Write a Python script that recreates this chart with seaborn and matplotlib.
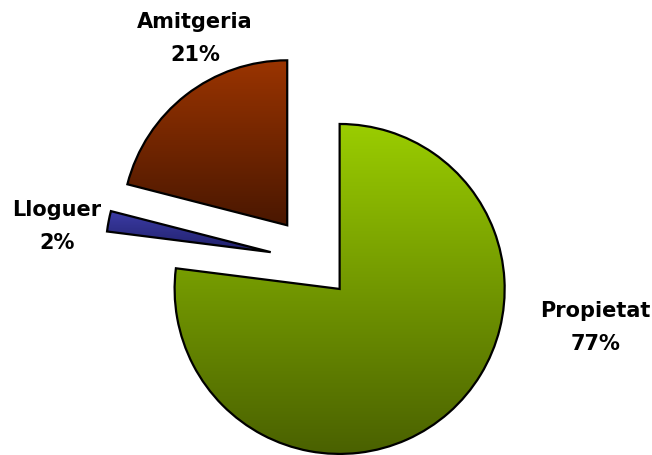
import numpy as np
import matplotlib
matplotlib.use("Agg")
import matplotlib.pyplot as plt
import seaborn as sns
from matplotlib.colors import LinearSegmentedColormap

sns.set_theme(style="white")
plt.rcParams['font.family'] = ['DejaVu Sans']

# data
categories = ["Propietat", "Lloguer", "Amitgeria"]
shares = [77, 2, 21]

# styling (gradient top -> bottom for each slice)
top_colors = ["#9ACD00", "#3C3CA6", "#9A3400"]
bottom_colors = ["#4A6100", "#20206A", "#4A1700"]
explode = [0.23, 0.27, 0.27]

fig = plt.figure(figsize=(6.52, 4.55), dpi=100)
ax = fig.add_axes([0, 0, 1, 1])

wedges, _ = ax.pie(shares, startangle=90, counterclock=False, explode=explode,
                   radius=1.0, colors=top_colors,
                   wedgeprops=dict(edgecolor="black", linewidth=1.6))

# vertical gradient fill clipped to each wedge
grad = np.linspace(0, 1, 256).reshape(-1, 1)
for w, c_top, c_bot in zip(wedges, top_colors, bottom_colors):
    bb = w.get_path().get_extents()
    cmap = LinearSegmentedColormap.from_list("g", [c_top, c_bot])
    im = ax.imshow(grad, extent=[bb.x0, bb.x1, bb.y0, bb.y1], origin="upper",
                   cmap=cmap, aspect="auto", zorder=w.get_zorder() + 0.1)
    im.set_clip_path(w)
    w.set_facecolor("none")
    w.set_zorder(w.get_zorder() + 0.2)

ax.set_xlim(-1.906, 2.045)
ax.set_ylim(-1.179, 1.579)
ax.set_aspect("auto")
ax.axis("off")

label_pos = {"Propietat": (0.913, 0.281), "Lloguer": (0.087, 0.503), "Amitgeria": (0.299, 0.916)}
for name, val in zip(categories, shares):
    x, y = label_pos[name]
    ax.text(x, y, f"{name}\n{val}%", transform=ax.transAxes, ha="center", va="center",
            fontsize=15, fontweight="bold", linespacing=1.8, color="black")

fig.savefig("out.png", dpi=100, facecolor="white")
